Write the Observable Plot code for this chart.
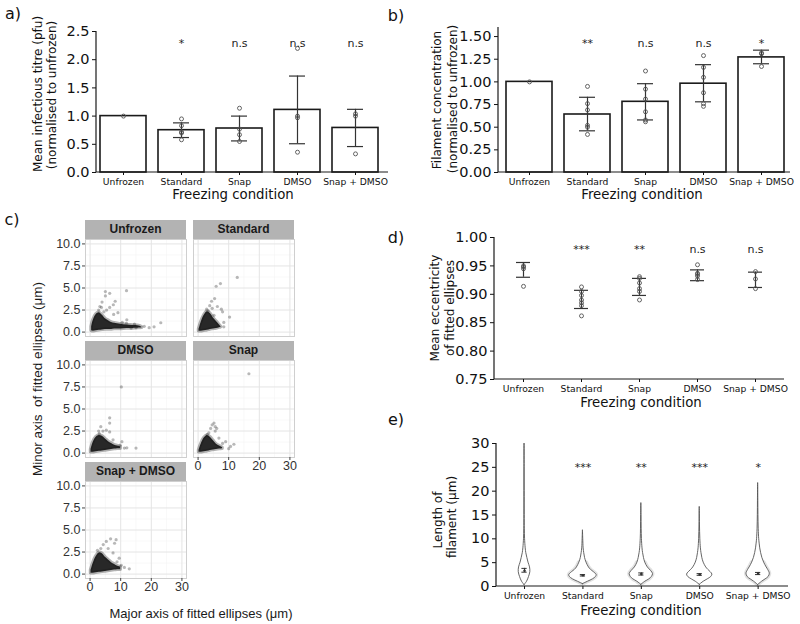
<!DOCTYPE html>
<html><head><meta charset="utf-8">
<script src="https://cdn.jsdelivr.net/npm/d3@7"></script>
<script src="https://cdn.jsdelivr.net/npm/@observablehq/plot@0.6"></script>
<style>
body{margin:0;background:#fff}
#fig{position:relative;width:800px;height:624px;overflow:hidden;font-family:"DejaVu Sans";background:#fff}
.abs{position:absolute}
.t{position:absolute;white-space:pre;line-height:1}
.strip{position:absolute;background:#b3b3b3;font-family:"Liberation Sans";font-weight:bold;font-size:12px;color:#1a1a1a;text-align:center;line-height:19px;height:19px}
</style>
</head><body><div id="fig"></div>
<script>
// ---------- shared categories ----------
const conditions = ["Unfrozen", "Standard", "Snap", "DMSO", "Snap + DMSO"];

// ---------- panel a: infectious titre ----------
const titreMean = [1.0, 0.75, 0.78, 1.11, 0.79];
const titreLo = [null, 0.62, 0.56, 0.51, 0.46];
const titreHi = [null, 0.88, 1.0, 1.71, 1.12];
const titrePoints = [[1.0], [0.95, 0.83, 0.72, 0.70, 0.58], [1.14, 0.77, 0.67, 0.55], [2.2, 1.0, 0.97, 0.36], [1.04, 1.0, 0.33]];
const titreSig = ["", "*", "n.s", "n.s", "n.s"];
const titreTicks = [0, 0.5, 1.0, 1.5, 2.0, 2.5];

// ---------- panel b: filament concentration ----------
const filMean = [1.0, 0.64, 0.78, 0.98, 1.27];
const filLo = [null, 0.46, 0.58, 0.78, 1.20];
const filHi = [null, 0.83, 0.98, 1.19, 1.35];
const filPoints = [[1.0], [0.95, 0.76, 0.69, 0.52, 0.50, 0.42], [1.12, 0.92, 0.81, 0.67, 0.58, 0.56], [1.29, 1.16, 1.05, 0.88, 0.76, 0.73], [1.32, 1.31, 1.17]];
const filSig = ["", "**", "n.s", "n.s", "*"];
const filTicks = [0, 0.25, 0.5, 0.75, 1.0, 1.25, 1.5];

// ---------- panel d: eccentricity ----------
const eccLo = [0.930, 0.875, 0.898, 0.924, 0.912];
const eccHi = [0.956, 0.907, 0.928, 0.943, 0.939];
const eccPoints = [[0.950, 0.948, 0.945, 0.914], [0.913, 0.905, 0.898, 0.890, 0.885, 0.880, 0.862], [0.931, 0.928, 0.920, 0.910, 0.905, 0.890], [0.952, 0.937, 0.935, 0.932, 0.926], [0.940, 0.927, 0.910]];
const eccSig = ["", "***", "**", "n.s", "n.s"];
const eccTicks = [0.75, 0.80, 0.85, 0.90, 0.95, 1.00];

// ---------- panel e: filament length violins (half-width in category units) ----------
const vUnfrozenY = [0.3, 1, 2, 3, 4, 5, 6, 7, 8, 10, 12, 15, 20, 25, 30];
const vUnfrozenW = [0, .043, .077, .099, .094, .068, .048, .030, .020, .009, .005, .003, .002, .0015, 0];
const vStandardY = [0.5, 1, 1.5, 2, 2.4, 3, 3.5, 4, 5, 6, 7, 8, 10, 11.8];
const vStandardW = [0, .086, .171, .223, .235, .188, .137, .103, .062, .036, .022, .012, .005, 0];
const vSnapY = [0.35, 1, 1.5, 2, 2.6, 3.2, 4, 5, 6, 7, 8, 10, 12, 15, 17.5];
const vSnapW = [0, .068, .137, .180, .200, .171, .111, .068, .045, .030, .020, .010, .006, .003, 0];
const vDmsoY = [0.35, 1, 1.5, 2, 2.5, 3, 3.5, 4, 5, 6, 7, 8, 10, 13, 16.7];
const vDmsoW = [0, .068, .137, .197, .217, .188, .146, .111, .068, .044, .030, .020, .010, .004, 0];
const vSnapDmsoY = [0.3, 1, 1.5, 2, 2.7, 3.5, 4, 5, 6, 7, 8, 9, 10, 12, 15, 18, 21.7];
const vSnapDmsoW = [0, .068, .128, .180, .200, .171, .146, .103, .072, .051, .036, .026, .018, .010, .005, .003, 0];
const lenMean = [3.3, 2.35, 2.6, 2.5, 2.7];
const lenLo = [3.0, 2.2, 2.4, 2.35, 2.5];
const lenHi = [3.8, 2.5, 2.85, 2.7, 2.95];
const lenSig = ["", "***", "**", "***", "*"];
const lenTicks = [0, 5, 10, 15, 20, 25, 30];
const haloConditions = ["Standard", "Snap", "Snap + DMSO"];
const haloTopY = 5;

// ---------- panel c: ellipse axes (dense core envelope + individual sparse points) ----------
const unfrozenCoreX = [0.5, 1, 2, 3, 4, 5, 6, 7, 8, 10, 12, 14, 16, 17];
const unfrozenCoreHi = [0.6, 1.3, 2.0, 2.2, 1.9, 1.5, 1.3, 1.1, 1.0, 0.9, 0.8, 0.75, 0.7, 0.55];
const unfrozenCoreLo = [0.15, 0.1, 0.15, 0.2, 0.25, 0.3, 0.3, 0.3, 0.35, 0.35, 0.4, 0.4, 0.45, 0.5];
const unfrozenPts = [[5.0, 4.6], [6.4, 4.4], [5.0, 4.1], [11.9, 4.7], [3.9, 3.4], [8.2, 3.5], [7.6, 3.1], [6.4, 2.8], [3.7, 2.8], [9.1, 2.2], [7.7, 2.0], [5.4, 2.5], [12.0, 1.4], [11.9, 1.0], [23.1, 1.06], [20.9, 0.6], [17.7, 0.65], [19.3, 0.5], [15.0, 0.5], [13.4, 0.45], [2.8, 2.5], [4.5, 2.3], [3.2, 2.9], [10.5, 1.1], [14.5, 0.9]];
const standardCoreX = [0.3, 1, 2, 3, 4, 5, 6, 7, 7.5];
const standardCoreHi = [0.3, 1.1, 1.9, 2.3, 2.1, 1.6, 1.2, 0.8, 0.6];
const standardCoreLo = [0.1, 0.1, 0.15, 0.2, 0.3, 0.35, 0.4, 0.5, 0.55];
const standardPts = [[12.8, 6.2], [7.3, 5.5], [5.9, 5.2], [5.4, 3.8], [4.4, 3.5], [3.8, 3.0], [6.3, 2.9], [7.6, 2.6], [8.0, 2.3], [10.3, 1.7], [8.4, 1.1], [8.4, 0.6], [3.3, 2.4], [5.2, 1.9], [2.8, 2.6], [4.6, 2.7]];
const dmsoCoreX = [0.3, 1, 2, 3, 4, 5, 6, 7, 8, 9, 10];
const dmsoCoreHi = [0.4, 1.2, 1.8, 2.0, 1.9, 1.6, 1.3, 1.1, 0.9, 0.8, 0.7];
const dmsoCoreLo = [0.1, 0.1, 0.15, 0.2, 0.25, 0.3, 0.35, 0.4, 0.45, 0.5, 0.5];
const dmsoPts = [[10.2, 7.5], [6.4, 4.0], [6.4, 3.4], [3.5, 3.0], [2.8, 2.5], [4.2, 2.5], [5.3, 2.6], [6.4, 2.4], [10.4, 1.3], [11.2, 0.57], [15.0, 0.57], [12.0, 0.6], [9.8, 0.9], [3.0, 2.2], [7.5, 1.5]];
const snapCoreX = [0.3, 1, 2, 3, 4, 5, 6, 7, 8];
const snapCoreHi = [0.3, 1.0, 1.7, 2.0, 1.8, 1.4, 1.0, 0.8, 0.6];
const snapCoreLo = [0.1, 0.1, 0.15, 0.2, 0.3, 0.35, 0.4, 0.45, 0.5];
const snapPts = [[16.6, 9.0], [5.2, 3.4], [5.6, 3.0], [4.1, 2.8], [6.1, 2.8], [3.5, 2.3], [5.6, 2.5], [6.8, 1.7], [9.0, 1.3], [10.6, 0.76], [11.7, 1.0], [8.0, 1.1], [10.0, 0.5], [4.6, 3.2], [3.0, 2.1]];
const snapDmsoCoreX = [0.3, 1, 2, 3, 4, 5, 6, 7, 8, 9, 10];
const snapDmsoCoreHi = [0.4, 1.2, 2.0, 2.4, 2.3, 1.9, 1.6, 1.3, 1.1, 0.9, 0.8];
const snapDmsoCoreLo = [0.1, 0.1, 0.15, 0.2, 0.25, 0.3, 0.35, 0.4, 0.45, 0.5, 0.5];
const snapDmsoPts = [[6.7, 4.0], [8.5, 3.9], [5.3, 3.7], [8.0, 3.5], [4.3, 3.35], [2.4, 2.7], [5.9, 2.9], [7.5, 2.4], [10.2, 1.0], [11.2, 0.76], [12.8, 0.6], [8.8, 1.4], [3.5, 2.9], [9.5, 1.8]];
const facetMajorX = [0, 10, 20, 30];
const facetMinorX = [5, 15, 25];
const facetMajorY = [0, 2.5, 5, 7.5, 10];
const facetMinorY = [1.25, 3.75, 6.25, 8.75];

// ---------- helpers ----------
const MPL = "DejaVu Sans";
const GG = "Liberation Sans";
const fig = document.getElementById("fig");
function place(node, left, top) {
  const d = document.createElement("div");
  d.className = "abs"; d.style.left = left + "px"; d.style.top = top + "px";
  d.appendChild(node); fig.appendChild(d);
}
function label(text, x, y, o = {}) {
  const d = document.createElement("div");
  d.className = "t"; d.textContent = text;
  d.style.left = x + "px"; d.style.top = y + "px";
  d.style.fontSize = (o.size || 13.3) + "px";
  d.style.fontFamily = o.family || MPL;
  if (o.weight) d.style.fontWeight = o.weight;
  d.style.color = o.color || "#111";
  d.style.transform = "translate(-50%,-50%)" + (o.rotate ? " rotate(-90deg)" : "");
  fig.appendChild(d);
}
function spines(index, scales, values, dim) {
  const g = d3.create("svg:g").attr("stroke", "#1a1a1a").attr("stroke-width", 1.2).attr("fill", "none");
  const l = dim.marginLeft, r = dim.width - dim.marginRight, t = dim.marginTop, b = dim.height - dim.marginBottom;
  g.append("line").attr("x1", l).attr("x2", l).attr("y1", t).attr("y2", b);
  g.append("line").attr("x1", l).attr("x2", r).attr("y1", b).attr("y2", b);
  return g.node();
}
const blank = () => "";
const baseStyle = {background: "transparent", color: "#111", overflow: "visible"};
function yLabels(ticks, fmt, size = 14.5, fill = "#111", family = MPL, dx = -7) {
  return Plot.text(ticks, {y: d => d, text: d => fmt(d), frameAnchor: "left", textAnchor: "end", dx, fontSize: size, fontFamily: family, fill});
}
function xCatLabels() {
  return Plot.text(conditions, {x: d => d, text: d => d, frameAnchor: "bottom", lineAnchor: "top", dy: 6, fontSize: 9.2, fontFamily: MPL, fill: "#111"});
}

// ---------- bar panels (a, b) ----------
function barPanel({mean, lo, hi, points, sig, ticks, fmt, yDomain, margins, align, sigDy}) {
  const bars = conditions.map((c, i) => ({cond: c, mean: mean[i], lo: lo[i], hi: hi[i], sig: sig[i]}));
  const errs = bars.filter(d => d.lo != null);
  const pts = conditions.flatMap((c, i) => points[i].map(v => ({cond: c, v})));
  return Plot.plot({
    width: 400, height: 210, ...margins,
    x: {domain: conditions, paddingInner: 0.2, paddingOuter: 0.1, align},
    y: {domain: yDomain},
    style: baseStyle,
    marks: [
      Plot.barY(bars, {x: "cond", y: "mean", fill: "white", stroke: "#1a1a1a", strokeWidth: 1.6}),
      Plot.ruleX(errs, {x: "cond", y1: "lo", y2: "hi", stroke: "#333", strokeWidth: 1.2}),
      Plot.tickY(errs, {x: "cond", y: "lo", insetLeft: 15, insetRight: 15, stroke: "#333", strokeWidth: 1.2}),
      Plot.tickY(errs, {x: "cond", y: "hi", insetLeft: 15, insetRight: 15, stroke: "#333", strokeWidth: 1.2}),
      Plot.dot(pts, {x: "cond", y: "v", r: 2, stroke: "#555", strokeWidth: 0.9}),
      Plot.text(bars, {x: "cond", text: "sig", frameAnchor: "top", dy: sigDy, fontSize: 11, fontFamily: MPL, fill: "#222"}),
      Plot.axisY(ticks, {tickFormat: blank, tickSize: 4, label: null}),
      Plot.axisX({tickFormat: blank, tickSize: 3, label: null}),
      yLabels(ticks, d3.format(fmt)),
      xCatLabels(),
      spines
    ]
  });
}

place(barPanel({mean: titreMean, lo: titreLo, hi: titreHi, points: titrePoints, sig: titreSig,
  ticks: titreTicks, fmt: ".1f", yDomain: [0, 2.5],
  margins: {marginLeft: 96, marginRight: 12, marginTop: 31, marginBottom: 38}, align: 0.3, sigDy: 8}), 0, 0);
place(barPanel({mean: filMean, lo: filLo, hi: filHi, points: filPoints, sig: filSig,
  ticks: filTicks, fmt: ".2f", yDomain: [0, 1.6],
  margins: {marginLeft: 98, marginRight: 10, marginTop: 27, marginBottom: 38}, align: 0.6, sigDy: 12}), 400, 0);

// ---------- panel d ----------
{
  const rows = conditions.map((c, i) => ({cond: c, lo: eccLo[i], hi: eccHi[i], sig: eccSig[i]}));
  const pts = conditions.flatMap((c, i) => eccPoints[i].map(v => ({cond: c, v})));
  place(Plot.plot({
    width: 400, height: 200, marginLeft: 94, marginRight: 16, marginTop: 27, marginBottom: 31,
    x: {domain: conditions, paddingInner: 0.2, paddingOuter: 0.1, align: 0.5},
    y: {domain: [0.75, 1.0]},
    style: baseStyle,
    marks: [
      Plot.ruleX(rows, {x: "cond", y1: "lo", y2: "hi", stroke: "#333", strokeWidth: 1.2}),
      Plot.tickY(rows, {x: "cond", y: "lo", insetLeft: 16, insetRight: 16, stroke: "#333", strokeWidth: 1.2}),
      Plot.tickY(rows, {x: "cond", y: "hi", insetLeft: 16, insetRight: 16, stroke: "#333", strokeWidth: 1.2}),
      Plot.dot(pts, {x: "cond", y: "v", r: 2, stroke: "#555", strokeWidth: 0.9}),
      Plot.text(rows, {x: "cond", text: "sig", frameAnchor: "top", dy: 8, fontSize: 11, fontFamily: MPL, fill: "#222"}),
      Plot.axisY(eccTicks, {tickFormat: blank, tickSize: 4, label: null}),
      Plot.axisX({tickFormat: blank, tickSize: 3, label: null}),
      yLabels(eccTicks, d3.format(".2f")),
      xCatLabels(),
      spines
    ]
  }), 400, 210);
}

// ---------- panel e ----------
{
  const profY = [vUnfrozenY, vStandardY, vSnapY, vDmsoY, vSnapDmsoY];
  const profW = [vUnfrozenW, vStandardW, vSnapW, vDmsoW, vSnapDmsoW];
  const vio = conditions.flatMap((c, i) => profY[i].map((y, k) => ({cond: c, i, y, w: profW[i][k]})));
  const halo = vio.filter(d => haloConditions.includes(d.cond) && d.y <= haloTopY);
  const stats = conditions.map((c, i) => ({cond: c, i, mean: lenMean[i], lo: lenLo[i], hi: lenHi[i], sig: lenSig[i]}));
  const idx = [0, 1, 2, 3, 4];
  place(Plot.plot({
    width: 400, height: 224, marginLeft: 96, marginRight: 12, marginTop: 43, marginBottom: 38,
    x: {domain: [-0.48, 4.52]},
    y: {domain: [0, 30]},
    style: baseStyle,
    marks: [
      Plot.areaX(halo, {y: "y", x1: d => d.i - d.w, x2: d => d.i + d.w, z: "cond", fill: "#e2e2e2", stroke: "#e2e2e2", strokeWidth: 4, curve: "catmull-rom"}),
      Plot.areaX(vio, {y: "y", x1: d => d.i - d.w, x2: d => d.i + d.w, z: "cond", fill: "white", stroke: "#555", strokeWidth: 0.9, curve: "catmull-rom"}),
      Plot.ruleX(stats, {x: "i", y1: "lo", y2: "hi", stroke: "#333", strokeWidth: 1}),
      Plot.ruleY(stats, {y: "lo", x1: d => d.i - 0.045, x2: d => d.i + 0.045, stroke: "#333", strokeWidth: 1}),
      Plot.ruleY(stats, {y: "hi", x1: d => d.i - 0.045, x2: d => d.i + 0.045, stroke: "#333", strokeWidth: 1}),
      Plot.dot(stats, {x: "i", y: "mean", r: 1.3, fill: "#333"}),
      Plot.text(stats, {x: "i", text: "sig", frameAnchor: "top", dy: 20, fontSize: 11, fontFamily: MPL, fill: "#222"}),
      Plot.axisY(lenTicks, {tickFormat: blank, tickSize: 4, label: null}),
      Plot.axisX(idx, {tickFormat: blank, tickSize: 3, label: null}),
      yLabels(lenTicks, d3.format("d")),
      Plot.text(idx, {x: d => d, text: d => conditions[d], frameAnchor: "bottom", lineAnchor: "top", dy: 6, fontSize: 9.2, fontFamily: MPL, fill: "#111"}),
      spines
    ]
  }), 400, 400);
}

// ---------- panel c (facets) ----------
function facet(name, cx, chi, clo, pts, left, top, showY, showX) {
  const core = cx.map((x, k) => ({x, hi: chi[k], lo: clo[k]}));
  const dots = pts.map(([x, y]) => ({x, y}));
  const svg = Plot.plot({
    width: 142, height: 118, marginLeft: 40, marginRight: 1, marginTop: 1, marginBottom: 20,
    x: {domain: [-1.5, 31.5], axis: null},
    y: {domain: [-0.5, 10.5], axis: null},
    style: {background: "transparent", color: "#333", overflow: "visible"},
    marks: [
      Plot.frame({fill: "white"}),
      Plot.ruleX(facetMinorX, {stroke: "#f3f3f3", strokeWidth: 0.6}),
      Plot.ruleY(facetMinorY, {stroke: "#f3f3f3", strokeWidth: 0.6}),
      Plot.ruleX(facetMajorX, {stroke: "#e4e4e4", strokeWidth: 1}),
      Plot.ruleY(facetMajorY, {stroke: "#e4e4e4", strokeWidth: 1}),
      Plot.areaY(core, {x: "x", y1: "lo", y2: "hi", fill: "none", stroke: "#222", strokeOpacity: 0.35, strokeWidth: 3.5, curve: "catmull-rom"}),
      Plot.areaY(core, {x: "x", y1: "lo", y2: "hi", fill: "#111", fillOpacity: 0.9, curve: "catmull-rom"}),
      Plot.dot(dots, {x: "x", y: "y", r: 1.6, fill: "#222", fillOpacity: 0.32}),
      Plot.frame({stroke: "#cfcfcf"}),
      showY ? Plot.axisY(facetMajorY, {tickFormat: blank, tickSize: 3, label: null, stroke: "#444"}) : null,
      showY ? yLabels(facetMajorY, d3.format(".1f"), 12.5, "#333", GG, -5) : null,
      showX ? Plot.axisX(facetMajorX, {tickFormat: blank, tickSize: 3, label: null, stroke: "#444"}) : null,
      showX ? Plot.text(facetMajorX, {x: d => d, text: d => String(d), frameAnchor: "bottom", lineAnchor: "top", dy: 4, fontSize: 12.5, fontFamily: GG, fill: "#333"}) : null
    ]
  });
  place(svg, left - 40, top - 1);
  const s = document.createElement("div");
  s.className = "strip"; s.textContent = name;
  s.style.left = left + "px"; s.style.top = (top - 19) + "px"; s.style.width = "101px";
  fig.appendChild(s);
}
facet("Unfrozen", unfrozenCoreX, unfrozenCoreHi, unfrozenCoreLo, unfrozenPts, 85, 239, true, false);
facet("Standard", standardCoreX, standardCoreHi, standardCoreLo, standardPts, 193, 239, false, false);
facet("DMSO", dmsoCoreX, dmsoCoreHi, dmsoCoreLo, dmsoPts, 85, 360, true, false);
facet("Snap", snapCoreX, snapCoreHi, snapCoreLo, snapPts, 193, 360, false, true);
facet("Snap + DMSO", snapDmsoCoreX, snapDmsoCoreHi, snapDmsoCoreLo, snapDmsoPts, 85, 481, true, true);

// ---------- text: panel letters and axis titles ----------
label("a)", 13, 14, {size: 16});
label("b)", 396, 16, {size: 16});
label("c)", 12, 220, {size: 16});
label("d)", 396, 238, {size: 16});
label("e)", 396, 420, {size: 16});

label("Mean infectious titre (pfu)", 38, 94, {size: 12, rotate: true});
label("(normalised to unfrozen)", 52, 95, {size: 12, rotate: true});
label("Freezing condition", 233, 195);

label("Filament concentration", 437, 100, {size: 12, rotate: true});
label("(normalised to unfrozen)", 453, 99, {size: 12, rotate: true});
label("Freezing condition", 642, 195);

label("Mean eccentricity", 435, 308, {size: 12, rotate: true});
label("of fitted ellipses", 450, 308, {size: 12, rotate: true});
label("Freezing condition", 641, 403);

label("Length of", 437.5, 520, {size: 12, rotate: true});
label("filament (μm)", 452, 517, {size: 12, rotate: true});
label("Freezing condition", 641, 611);

label("Minor axis  of fitted ellipses (μm)", 38, 379, {size: 13.5, rotate: true, family: GG, color: "#1a1a1a"});
label("Major axis of fitted ellipses (μm)", 201, 613, {size: 13, family: GG, color: "#1a1a1a"});
</script></body></html>
